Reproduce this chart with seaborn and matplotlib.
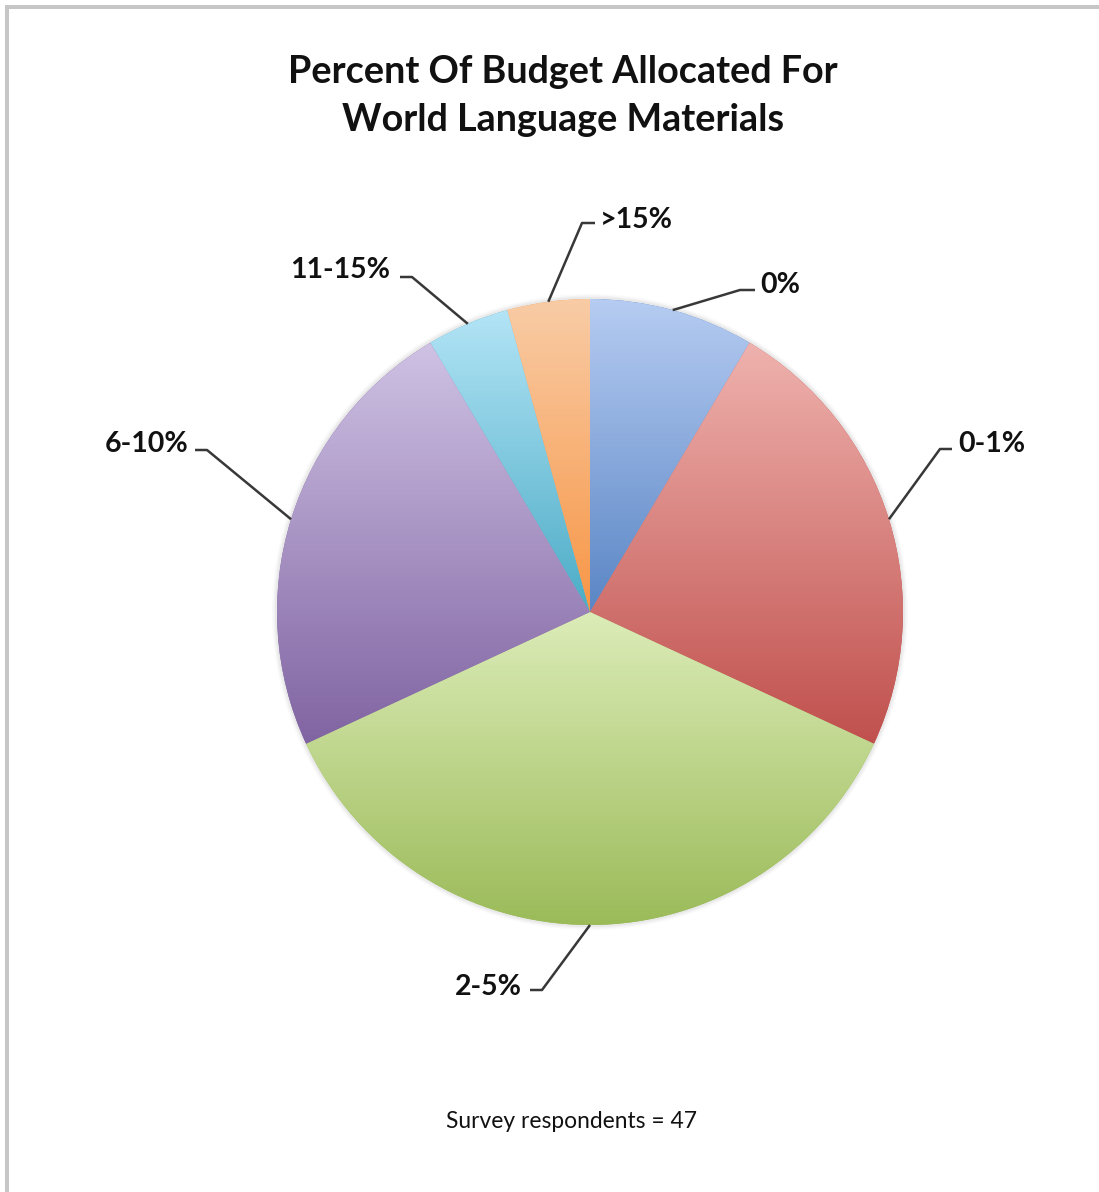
import numpy as np
import matplotlib
matplotlib.use("Agg")
import matplotlib.pyplot as plt
from matplotlib.colors import LinearSegmentedColormap
from matplotlib.patches import Circle
import seaborn as sns

# Survey answers: share of budget spent on world language materials
categories = ["0%", "0-1%", "2-5%", "6-10%", "11-15%", ">15%"]
respondents = [4, 11, 17, 11, 2, 2]
total_respondents = 47
title_lines = ["Percent Of Budget Allocated For", "World Language Materials"]
footer_text = f"Survey respondents = {total_respondents}"

# Slice fills: light tint at the top of each slice fading to the base colour
base_colors = ["#5a86c5", "#c0504d", "#9bbb59", "#8064a2", "#4bacc6", "#f79646"]
light_colors = ["#b6ccf2", "#efb2ae", "#dcecb8", "#cfc2e4", "#b3e4f6", "#f9cca6"]

W, H = 1099, 1192
sns.set_theme(style="white")
plt.rcParams["font.family"] = ["Lato", "DejaVu Sans"]
palette = sns.color_palette(base_colors)

fig = plt.figure(figsize=(W / 100, H / 100), dpi=100)
fig.patch.set_facecolor("white")
ax = fig.add_axes([0, 0, 1, 1])

CX, CY, R = 590, H - 612, 313

# soft halo around the pie
for dr, a in [(5, 0.04), (3.5, 0.06), (2, 0.08)]:
    ax.add_patch(Circle((CX, CY), R + dr, facecolor="#808080", edgecolor="none",
                        alpha=a, zorder=0.5))

wedges, _ = ax.pie(respondents, startangle=90, counterclock=False,
                   center=(CX, CY), radius=R, colors=palette,
                   wedgeprops=dict(linewidth=0))

grad = np.linspace(0, 1, 256).reshape(-1, 1)
for w, lc, bc in zip(wedges, light_colors, base_colors):
    ext = w.get_path().get_extents()
    cmap = LinearSegmentedColormap.from_list("slice", [lc, bc])
    im = ax.imshow(grad, cmap=cmap, extent=(ext.x0, ext.x1, ext.y0, ext.y1),
                   origin="upper", aspect="auto", interpolation="bilinear",
                   zorder=w.get_zorder())
    im.set_clip_path(w)

ax.set_xlim(0, W)
ax.set_ylim(0, H)
ax.set_aspect("equal", adjustable="box")
ax.axis("off")

# label placement (pixel coords from the top-left): text x, baseline y, alignment
label_pos = [(760, 293, "left"), (958, 452, "left"), (522, 995, "right"),
             (188, 452, "right"), (390, 278, "right"), (600, 228, "left")]
# leader elbow x, elbow y, end of horizontal tick x
elbows = [(740, 290, 755), (940, 449, 952), (542, 990, 530),
          (207, 450, 195), (412, 277, 400), (582, 223, 595)]

for w, name, (tx, ty, ha), (ex, ey, hx) in zip(wedges, categories, label_pos, elbows):
    mid = np.deg2rad((w.theta1 + w.theta2) / 2)
    px, py = CX + R * np.cos(mid), CY + R * np.sin(mid)
    ax.plot([px, ex, hx], [py, H - ey, H - ey], color="#383838", lw=1.8,
            solid_capstyle="butt", zorder=3)
    ax.text(tx, H - ty, name, ha=ha, va="baseline", fontsize=20.5,
            fontweight="bold", color="#111111", zorder=4)

ax.text(563, H - 83, title_lines[0], ha="center", va="baseline", fontsize=27.2,
        fontweight="bold", color="#111111")
ax.text(563, H - 131, title_lines[1], ha="center", va="baseline", fontsize=27.2,
        fontweight="bold", color="#111111")
ax.text(571, H - 1128, footer_text, ha="center", va="baseline", fontsize=16.4,
        color="#111111")

# frame lines along the top and left edges
ax.plot([5, W], [H - 7, H - 7], color="#c6c6c6", lw=2.9, clip_on=False,
        solid_capstyle="butt")
ax.plot([7, 7], [0, H - 5], color="#c6c6c6", lw=2.9, clip_on=False,
        solid_capstyle="butt")

fig.savefig("out.png", dpi=100, facecolor="white")
